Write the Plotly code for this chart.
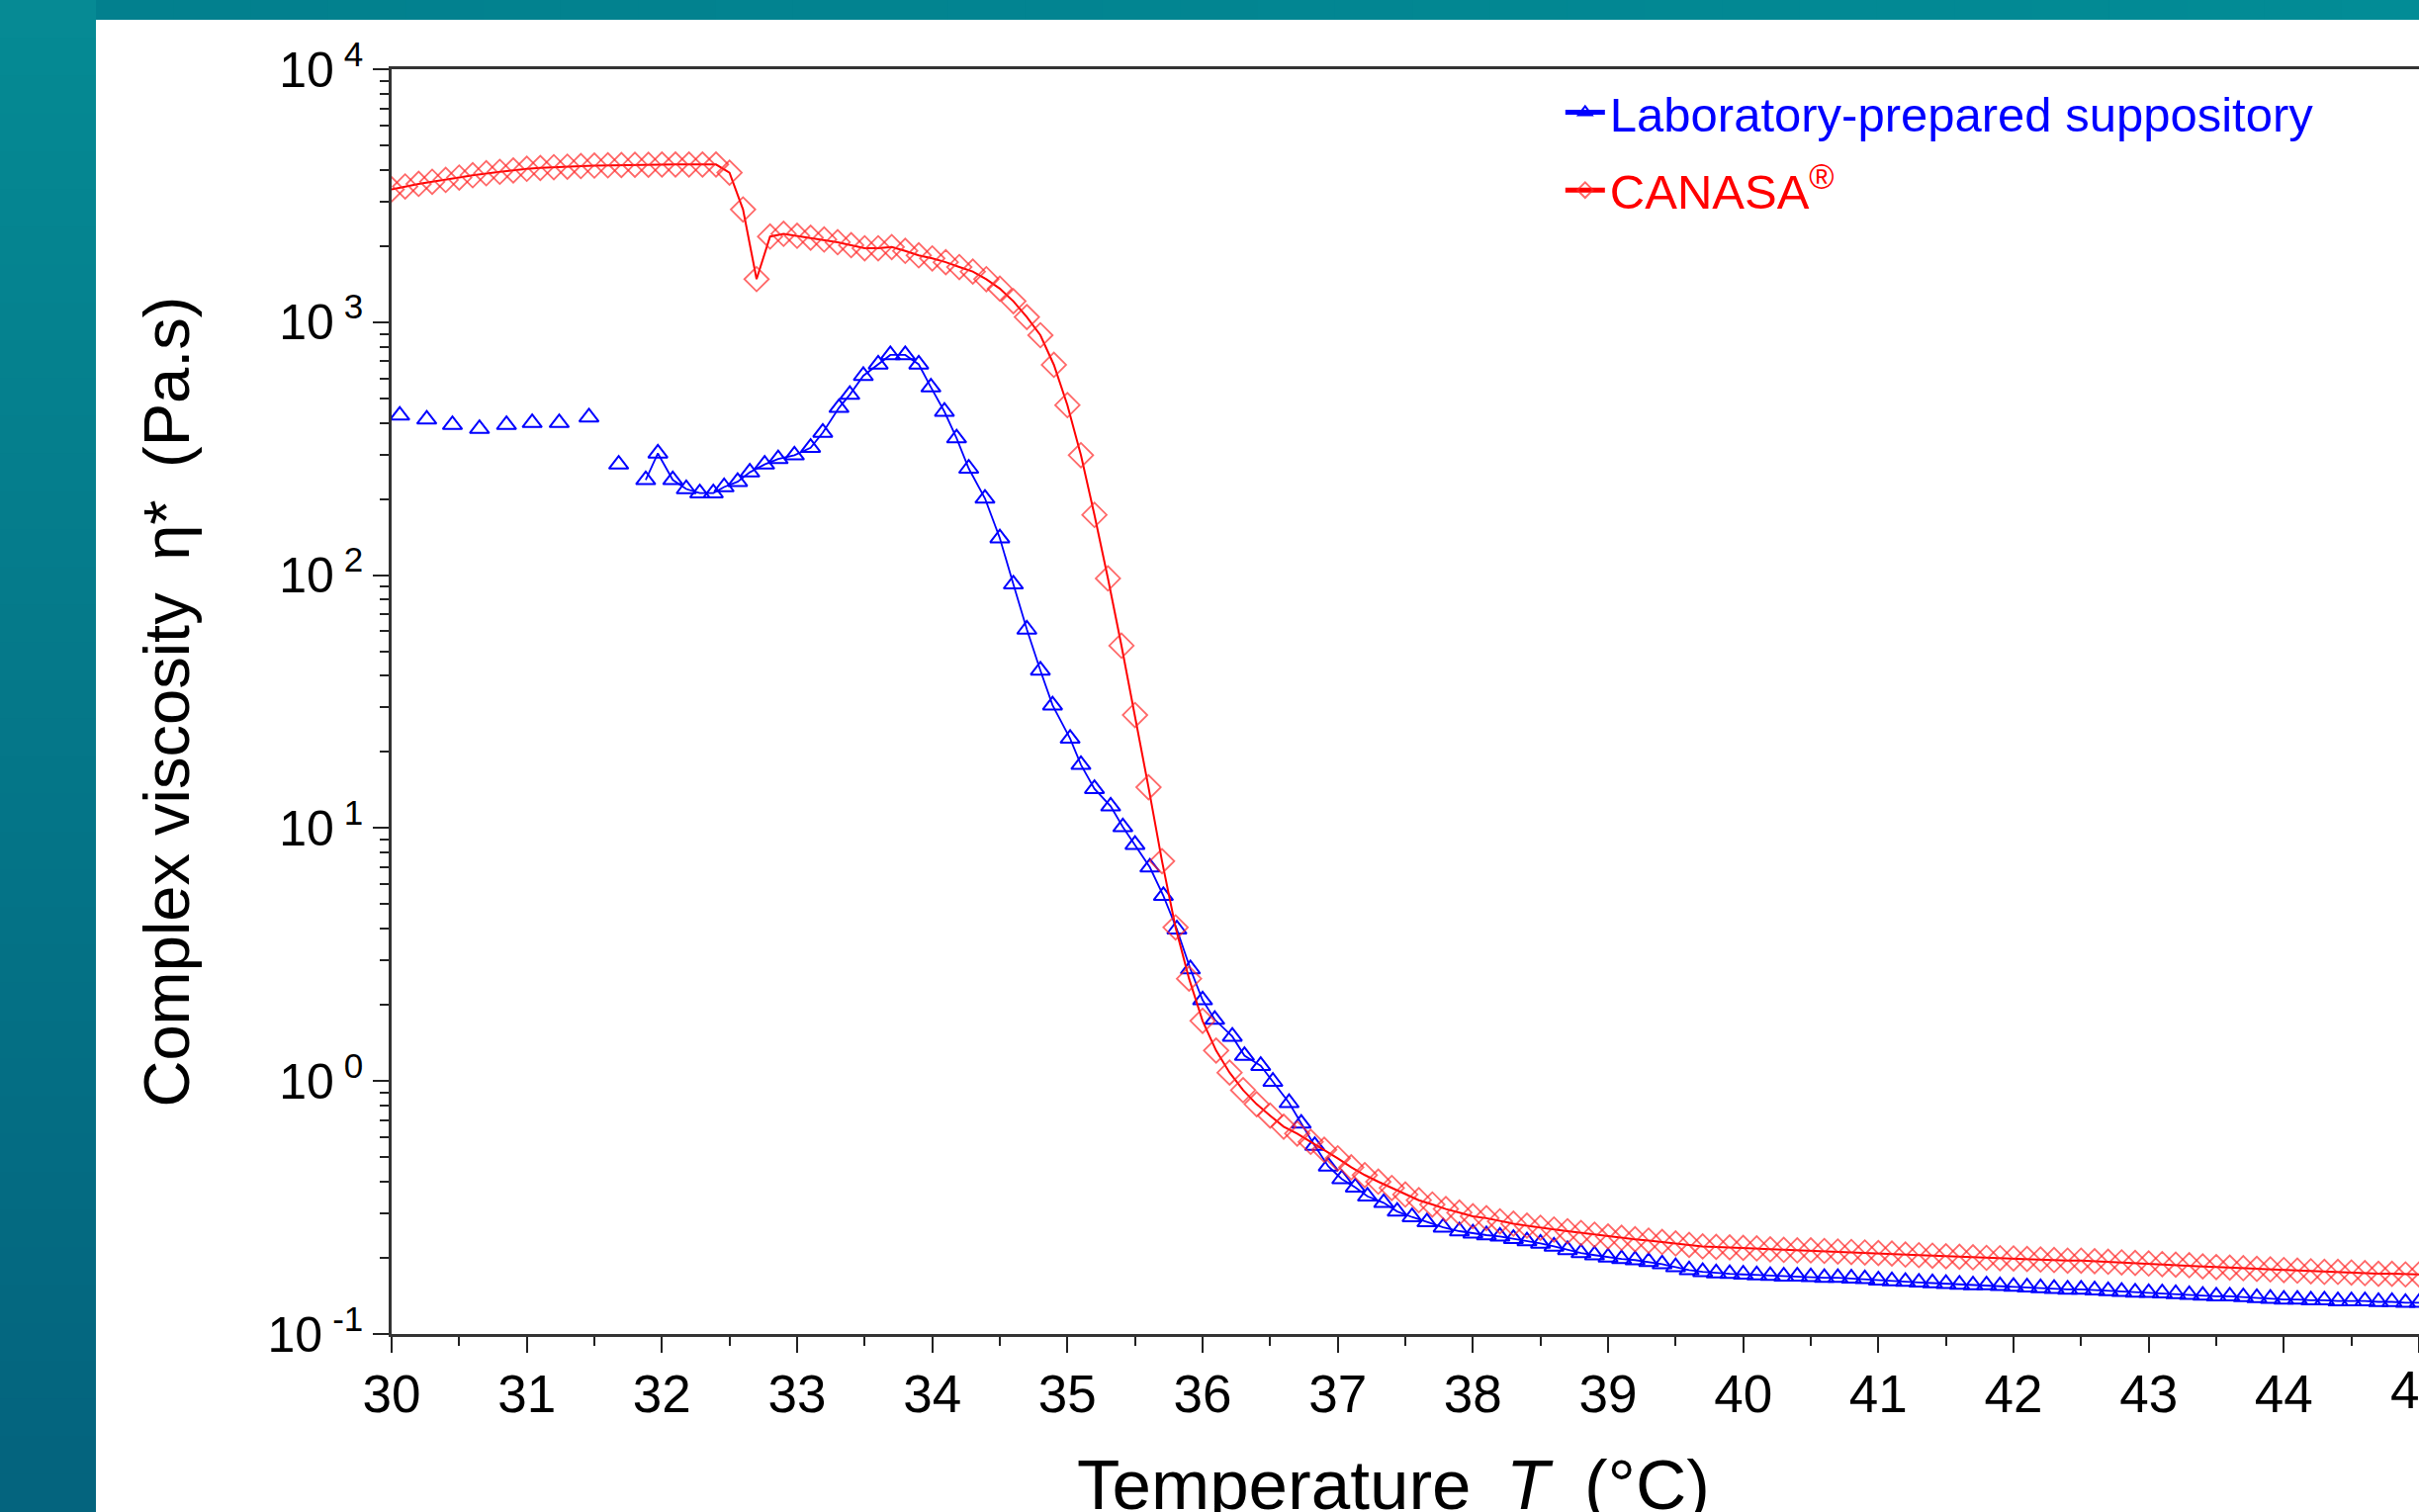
import plotly.graph_objects as go

# ---------------- data ----------------
lab_sparse_T = [30.06, 30.26, 30.45, 30.65, 30.85, 31.04, 31.24, 31.46, 31.68]
lab_sparse_eta = [428, 413, 393, 379, 393, 400, 400, 421, 274]

lab_T = [31.88, 31.97, 32.08, 32.18, 32.28, 32.38, 32.46, 32.56, 32.65, 32.76,
         32.86, 32.98, 33.10, 33.19, 33.31, 33.39, 33.49, 33.60, 33.69, 33.80,
         33.90, 33.99, 34.09, 34.18, 34.27, 34.39, 34.50, 34.60, 34.70, 34.80,
         34.89, 35.02, 35.10, 35.20, 35.32, 35.41, 35.50, 35.61, 35.71, 35.81,
         35.91, 36.00, 36.09, 36.22, 36.31, 36.43, 36.52, 36.64, 36.73, 36.83,
         36.93, 37.03, 37.13, 37.22, 37.34, 37.44, 37.55, 37.66, 37.78,
         37.9, 38.0, 38.1, 38.2, 38.3, 38.4, 38.5, 38.6, 38.7, 38.8, 38.9,
         39.0, 39.1, 39.2, 39.3, 39.4, 39.5, 39.6, 39.7, 39.8, 39.9,
         40.0, 40.1, 40.2, 40.3, 40.4, 40.5, 40.6, 40.7, 40.8, 40.9,
         41.0, 41.1, 41.2, 41.3, 41.4, 41.5, 41.6, 41.7, 41.8, 41.9,
         42.0, 42.1, 42.2, 42.3, 42.4, 42.5, 42.6, 42.7, 42.8, 42.9,
         43.0, 43.1, 43.2, 43.3, 43.4, 43.5, 43.6, 43.7, 43.8, 43.9,
         44.0, 44.1, 44.2, 44.3, 44.4, 44.5, 44.6, 44.7, 44.8, 44.9, 45.0]
lab_eta = [238, 303, 238, 219, 211, 211, 223, 234, 255, 274,
           288, 298, 319, 366, 459, 517, 614, 681, 742, 742,
           681, 553, 443, 348, 264, 201, 140, 92, 61, 42,
           30.6, 22.6, 17.8, 14.3, 12.2, 10.1, 8.6, 7.0, 5.4, 3.98,
           2.77, 2.09, 1.75, 1.50, 1.26, 1.15, 0.995, 0.82, 0.68, 0.555,
           0.46, 0.41, 0.38, 0.35, 0.33, 0.305, 0.29, 0.277, 0.264,
           0.255, 0.250, 0.246, 0.243, 0.238, 0.233, 0.228, 0.222, 0.215, 0.209, 0.205,
           0.201, 0.198, 0.196, 0.193, 0.189, 0.184, 0.179, 0.176, 0.174, 0.173,
           0.172, 0.171, 0.170, 0.169, 0.169, 0.168, 0.167, 0.167, 0.166, 0.165,
           0.163, 0.162, 0.161, 0.160, 0.159, 0.158, 0.157, 0.156, 0.156, 0.155,
           0.154, 0.153, 0.152, 0.151, 0.150, 0.150, 0.149, 0.148, 0.147, 0.146,
           0.1455, 0.145, 0.144, 0.143, 0.142, 0.141, 0.141, 0.140, 0.139, 0.138,
           0.137, 0.137, 0.136, 0.136, 0.135, 0.135, 0.135, 0.134, 0.134, 0.133, 0.133]

canasa_T = [30.0, 30.1, 30.2, 30.3, 30.4, 30.5, 30.6, 30.7, 30.8, 30.9,
            31.0, 31.1, 31.2, 31.3, 31.4, 31.5, 31.6, 31.7, 31.8, 31.9,
            32.0, 32.1, 32.2, 32.3, 32.4, 32.5, 32.6, 32.7, 32.8, 32.9,
            33.0, 33.1, 33.2, 33.3, 33.4, 33.5, 33.6, 33.7, 33.8, 33.9,
            34.0, 34.1, 34.2, 34.3, 34.4, 34.5, 34.6, 34.7, 34.8, 34.9,
            35.0, 35.1, 35.2, 35.3, 35.4, 35.5, 35.6, 35.7, 35.8, 35.9,
            36.0, 36.1, 36.2, 36.3, 36.4, 36.5, 36.6, 36.7, 36.8, 36.9,
            37.0, 37.1, 37.2, 37.3, 37.4, 37.5, 37.6, 37.7, 37.8, 37.9,
            38.0, 38.1, 38.2, 38.3, 38.4, 38.5, 38.6, 38.7, 38.8, 38.9,
            39.0, 39.1, 39.2, 39.3, 39.4, 39.5, 39.6, 39.7, 39.8, 39.9,
            40.0, 40.1, 40.2, 40.3, 40.4, 40.5, 40.6, 40.7, 40.8, 40.9,
            41.0, 41.1, 41.2, 41.3, 41.4, 41.5, 41.6, 41.7, 41.8, 41.9,
            42.0, 42.1, 42.2, 42.3, 42.4, 42.5, 42.6, 42.7, 42.8, 42.9,
            43.0, 43.1, 43.2, 43.3, 43.4, 43.5, 43.6, 43.7, 43.8, 43.9,
            44.0, 44.1, 44.2, 44.3, 44.4, 44.5, 44.6, 44.7, 44.8, 44.9, 45.0]
canasa_eta = [3350, 3440, 3520, 3590, 3650, 3730, 3810, 3880, 3930, 3980,
              4040, 4070, 4100, 4120, 4140, 4160, 4170, 4180, 4190, 4190,
              4200, 4200, 4200, 4200, 4200, 3900, 2790, 1480, 2180, 2235,
              2195, 2158, 2122, 2071, 2015, 1960, 1960, 1982, 1914, 1837,
              1787, 1726, 1652, 1585, 1479, 1357, 1210, 1048, 888, 678,
              470, 298, 173, 97, 52.6, 28, 14.5, 7.4, 4.05, 2.54,
              1.73, 1.32, 1.08, 0.92, 0.81, 0.73, 0.66, 0.62, 0.575, 0.535,
              0.495, 0.456, 0.425, 0.40, 0.378, 0.356, 0.338, 0.325, 0.312, 0.302,
              0.292, 0.287, 0.279, 0.273, 0.268, 0.263, 0.259, 0.255, 0.251, 0.247,
              0.243, 0.240, 0.237, 0.234, 0.231, 0.228, 0.225, 0.222, 0.221, 0.220,
              0.219, 0.218, 0.216, 0.215, 0.214, 0.214, 0.213, 0.212, 0.211, 0.210,
              0.209, 0.208, 0.206, 0.205, 0.204, 0.203, 0.202, 0.201, 0.200, 0.1995,
              0.199, 0.198, 0.197, 0.196, 0.195, 0.195, 0.194, 0.193, 0.192, 0.191,
              0.190, 0.189, 0.188, 0.187, 0.185, 0.184, 0.183, 0.182, 0.181, 0.180,
              0.179, 0.178, 0.177, 0.176, 0.176, 0.175, 0.174, 0.173, 0.173, 0.172,
              0.172]

x_tick_vals = [30, 31, 32, 33, 34, 35, 36, 37, 38, 39, 40, 41, 42, 43, 44, 45]
y_tick_vals = [0.1, 1, 10, 100, 1000, 10000]
y_tick_text = ["10\u2009<sup>-1</sup>", "10\u2009<sup>0</sup>", "10\u2009<sup>1</sup>",
               "10\u2009<sup>2</sup>", "10\u2009<sup>3</sup>", "10\u2009<sup>4</sup>"]
y_minor_vals = [m * 10 ** e for e in range(-1, 4) for m in range(2, 10)]

lab_name = '<span style="color:#0000ff">Laboratory-prepared suppository</span>'
canasa_name = '<span style="color:#ff0000">CANASA<sup>®</sup></span>'

# ---------------- figure ----------------
W, H = 2446, 1529
ML, MR, MT, MB = 396, 0, 70, 180
FONT = "Liberation Sans, Arial, sans-serif"

BLUE = "#0000ff"
RED = "#ff0000"

fig = go.Figure()

fig.add_trace(go.Scatter(
    x=lab_sparse_T, y=lab_sparse_eta, mode="markers", showlegend=False,
    legendgroup="lab",
    marker=dict(symbol="triangle-up-open", size=17, color=BLUE,
                line=dict(width=2, color=BLUE)),
))
fig.add_trace(go.Scatter(
    x=lab_T, y=lab_eta, mode="lines+markers", name=lab_name,
    legendgroup="lab",
    line=dict(color=BLUE, width=1.8),
    marker=dict(symbol="triangle-up-open", size=17, color=BLUE,
                line=dict(width=2, color=BLUE)),
))
fig.add_trace(go.Scatter(
    x=canasa_T, y=canasa_eta, mode="lines+markers", name=canasa_name,
    legendgroup="canasa",
    line=dict(color=RED, width=2),
    marker=dict(symbol="diamond-open", size=19, color="rgba(255,40,40,0.7)",
                line=dict(width=1.8, color="rgba(255,40,40,0.7)")),
))

# background: teal frame with gradient, white panel
pw = W - ML - MR
ph = H - MT - MB


def px_to_paper_x(px):
    return (px - ML) / pw


def px_to_paper_y(py):
    return (H - MB - py) / ph


shapes = []
nb = 40
for i in range(nb):
    t = i / (nb - 1)
    r = int(6 - 2 * t)
    g = int(138 - 38 * t)
    b = int(148 - 22 * t)
    y0 = i * H / nb
    y1 = (i + 1) * H / nb + 1
    shapes.append(dict(type="rect", xref="paper", yref="paper",
                       x0=px_to_paper_x(-5), x1=px_to_paper_x(97),
                       y0=px_to_paper_y(y1), y1=px_to_paper_y(y0),
                       fillcolor=f"rgb({r},{g},{b})", line=dict(width=0),
                       layer="below"))
nbt = 30
for i in range(nbt):
    t = i / (nbt - 1)
    g = int(128 + 12 * t)
    b = int(142 + 8 * t)
    x0 = 97 + i * (W - 97) / nbt
    x1 = 97 + (i + 1) * (W - 97) / nbt + 1
    shapes.append(dict(type="rect", xref="paper", yref="paper",
                       x0=px_to_paper_x(x0), x1=px_to_paper_x(x1),
                       y0=px_to_paper_y(20), y1=px_to_paper_y(-5),
                       fillcolor=f"rgb(2,{g},{b})", line=dict(width=0),
                       layer="below"))
shapes.append(dict(type="rect", xref="paper", yref="paper",
                   x0=px_to_paper_x(97), x1=px_to_paper_x(W + 10),
                   y0=px_to_paper_y(H + 10), y1=px_to_paper_y(20),
                   fillcolor="white", line=dict(width=0), layer="below"))

fig.update_layout(
    width=W, height=H,
    margin=dict(l=ML, r=MR, t=MT, b=MB, pad=0),
    paper_bgcolor="rgb(3,120,135)",
    plot_bgcolor="white",
    font=dict(family=FONT, color="black", size=50),
    shapes=shapes,
    showlegend=True,
    legend=dict(
        x=0.5765, y=0.996, xanchor="left", yanchor="top",
        bgcolor="rgba(0,0,0,0)", borderwidth=0,
        font=dict(family=FONT, size=49),
        itemsizing="constant", itemwidth=40,
        tracegroupgap=12,
    ),
    xaxis=dict(
        range=[30, 45], autorange=False,
        tickmode="array", tickvals=x_tick_vals,
        ticks="outside", ticklen=16, tickwidth=2, tickcolor="#222",
        minor=dict(ticks="outside", ticklen=9, tickwidth=2, dtick=0.5,
                   tick0=30, tickcolor="#222"),
        showline=True, linewidth=3, linecolor="#333", mirror=True,
        showgrid=False, zeroline=False,
        tickfont=dict(family=FONT, size=53, color="black"),
        ticklabelstandoff=-4,
        automargin=False,
    ),
    yaxis=dict(
        type="log", range=[-1, 4], autorange=False,
        tickmode="array", tickvals=y_tick_vals, ticktext=y_tick_text,
        ticks="outside", ticklen=16, tickwidth=2, tickcolor="#222",
        minor=dict(ticks="outside", ticklen=9, tickwidth=2,
                   tickvals=y_minor_vals, tickcolor="#222"),
        showline=True, linewidth=2.5, linecolor="#333", mirror=True,
        showgrid=False, zeroline=False,
        tickfont=dict(family=FONT, size=50, color="black"),
        automargin=False,
    ),
    annotations=[
        dict(text="Complex viscosity\u2002η*\u2002(Pa.s)", xref="paper", yref="paper",
             x=px_to_paper_x(168), y=0.5, xanchor="center", yanchor="middle",
             textangle=-90, showarrow=False,
             font=dict(family=FONT, size=65, color="black")),
        dict(text="Temperature\u2002<i>T</i>\u2002(°C)", xref="paper", yref="paper",
             x=px_to_paper_x(1409), y=px_to_paper_y(1501),
             xanchor="center", yanchor="middle", showarrow=False,
             font=dict(family=FONT, size=71, color="black")),
        # last x tick label, which sits on the page edge in the original
        dict(text=str(x_tick_vals[-1]), xref="x", yref="paper",
             x=x_tick_vals[-1], y=px_to_paper_y(1405),
             xanchor="center", yanchor="middle", showarrow=False,
             font=dict(family=FONT, size=53, color="black")),
    ],
)

fig.write_html(
    "out.html",
    config={"displayModeBar": False},
    post_script="document.body.style.margin='0';document.body.style.padding='0';"
                "document.body.style.overflow='hidden';",
)
